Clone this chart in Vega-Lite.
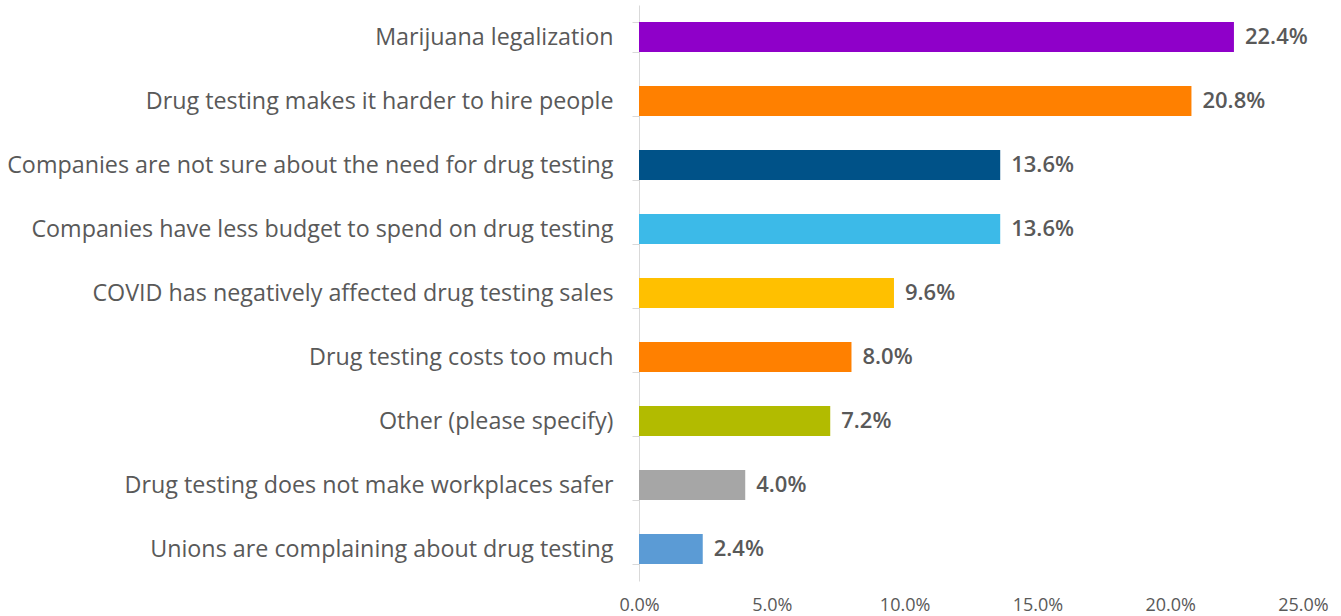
{
  "$schema": "https://vega.github.io/schema/vega-lite/v6.json",
  "width": 664,
  "height": 576,
  "autosize": "none",
  "padding": {"left": 639, "top": 5, "right": 38, "bottom": 35},
  "background": "white",
  "config": {"view": {"stroke": null}, "font": "Open Sans"},
  "data": {
    "values": [
      {"label": "Marijuana legalization", "share": 0.224},
      {"label": "Drug testing makes it harder to hire people", "share": 0.208},
      {"label": "Companies are not sure about the need for drug testing", "share": 0.136},
      {"label": "Companies have less budget to spend on drug testing", "share": 0.136},
      {"label": "COVID has negatively affected drug testing sales", "share": 0.096},
      {"label": "Drug testing costs too much", "share": 0.08},
      {"label": "Other (please specify)", "share": 0.072},
      {"label": "Drug testing does not make workplaces safer", "share": 0.04},
      {"label": "Unions are complaining about drug testing", "share": 0.024}
    ]
  },
  "encoding": {
    "y": {
      "field": "label",
      "type": "nominal",
      "sort": null,
      "title": null,
      "scale": {"paddingInner": 0.53, "paddingOuter": 0.265},
      "axis": {
        "domainColor": "#d9d9d9",
        "tickColor": "#d9d9d9",
        "tickBand": "extent",
        "tickSize": 7,
        "labelFontSize": 23.3,
        "labelColor": "#595959",
        "labelPadding": 19,
        "labelLimit": 700
      }
    },
    "x": {
      "field": "share",
      "type": "quantitative",
      "title": null,
      "scale": {"domain": [0, 0.25], "nice": false},
      "axis": {
        "values": [0, 0.05, 0.1, 0.15, 0.2, 0.25],
        "format": ".1%",
        "domain": false,
        "ticks": false,
        "grid": false,
        "labelFontSize": 18,
        "labelColor": "#595959",
        "labelPadding": 15,
        "labelFlush": false
      }
    }
  },
  "layer": [
    {
      "mark": {"type": "bar"},
      "encoding": {
        "color": {
          "field": "label",
          "type": "nominal",
          "legend": null,
          "scale": {
            "domain": [
              "Marijuana legalization",
              "Drug testing makes it harder to hire people",
              "Companies are not sure about the need for drug testing",
              "Companies have less budget to spend on drug testing",
              "COVID has negatively affected drug testing sales",
              "Drug testing costs too much",
              "Other (please specify)",
              "Drug testing does not make workplaces safer",
              "Unions are complaining about drug testing"
            ],
            "range": ["#8F00C9", "#FF8000", "#005288", "#3CBAE8", "#FFC000", "#FF8000", "#B2BB00", "#A6A6A6", "#5B9BD5"]
          }
        }
      }
    },
    {
      "mark": {"type": "text", "align": "left", "baseline": "middle", "dx": 11, "fontSize": 22, "fontWeight": 600, "color": "#595959"},
      "encoding": {
        "text": {"field": "share", "type": "quantitative", "format": ".1%"}
      }
    }
  ]
}
